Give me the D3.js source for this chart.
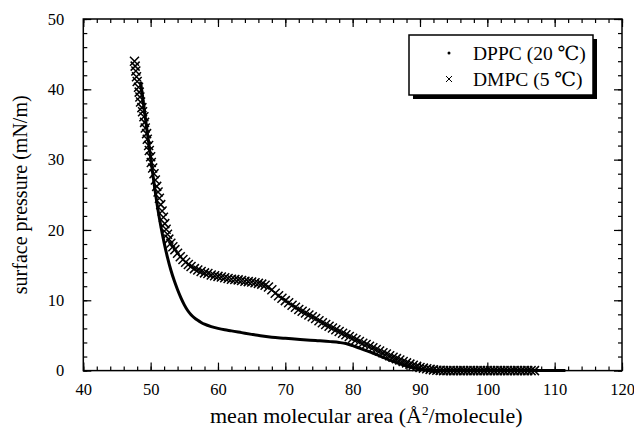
<!DOCTYPE html>
<html>
<head>
<meta charset="utf-8">
<script src="https://cdn.jsdelivr.net/npm/d3@7"></script>
<style>
  body { margin: 0; background: #fff; }
  svg { display: block; }
  svg text { font-family: 'Liberation Serif', 'Times New Roman', Times, 'DejaVu Serif', serif; fill: #000; }
</style>
</head>
<body>
<div id="chart"></div>
<script>
// ---- data ----
const xMajorTicks = [40, 50, 60, 70, 80, 90, 100, 110, 120];
const yMajorTicks = [0, 10, 20, 30, 40, 50];

// DPPC (20 C): mean molecular area (A^2/molecule), surface pressure (mN/m)
const dppcPoints = [
  [48.5, 41.1], [48.8, 39.0], [49.1, 36.8], [49.4, 34.6], [49.7, 32.5],
  [50.0, 30.3], [50.3, 28.1], [50.6, 26.0], [51.0, 23.4], [51.5, 20.6],
  [52.0, 18.2], [52.5, 16.1], [53.0, 14.3], [53.5, 12.8], [54.0, 11.5],
  [54.5, 10.35], [55.0, 9.35], [55.5, 8.55], [56.0, 7.95], [56.5, 7.5],
  [57.0, 7.15], [57.5, 6.85], [58.0, 6.6], [59.0, 6.25], [60.0, 6.0],
  [61.0, 5.8], [62.0, 5.65], [63.5, 5.4], [65.0, 5.15], [66.3, 4.95],
  [68.0, 4.75], [70.0, 4.6], [72.2, 4.42], [74.5, 4.27], [76.7, 4.12],
  [78.0, 4.0], [79.0, 3.85], [80.0, 3.55], [81.0, 3.2], [82.0, 2.85],
  [83.0, 2.5], [84.0, 2.1], [85.0, 1.7], [86.0, 1.3], [87.0, 0.95],
  [88.0, 0.65], [89.0, 0.4], [90.0, 0.2], [91.0, 0.08], [92.0, 0.02],
  [93.0, 0], [96.0, 0], [100.0, 0], [104.0, 0], [108.0, 0], [111.6, 0]
];

// DMPC (5 C)
const dmpcPoints = [
  [47.6, 44.0], [47.7, 43.3], [47.8, 42.6], [47.9, 41.8], [48.0, 41.1],
  [48.2, 40.3], [48.3, 39.6], [48.4, 38.9], [48.5, 38.2], [48.7, 37.4],
  [48.8, 36.8], [49.0, 36.1], [49.1, 35.3], [49.2, 34.5], [49.4, 33.7],
  [49.5, 32.9], [49.7, 32.0], [49.8, 31.3], [50.0, 30.4], [50.1, 29.6],
  [50.3, 28.8], [50.5, 28.0], [50.7, 27.1], [50.9, 26.2], [51.1, 25.4],
  [51.3, 24.5], [51.5, 23.6], [51.7, 22.7], [51.9, 21.8], [52.1, 20.9],
  [52.3, 20.1], [52.5, 19.4], [52.7, 18.7], [53.0, 18.1], [53.3, 17.6],
  [53.6, 17.2], [54.0, 16.7], [54.4, 16.2], [54.8, 15.8], [55.2, 15.4],
  [55.6, 15.1], [56.0, 14.8], [56.5, 14.5], [57.0, 14.3], [57.5, 14.1],
  [58.0, 13.9], [58.5, 13.8], [59.0, 13.6], [59.5, 13.5], [60.0, 13.4],
  [60.5, 13.3], [61.0, 13.2], [61.5, 13.1], [62.0, 13.0], [62.5, 12.95],
  [63.0, 12.9], [63.5, 12.8], [64.0, 12.7], [64.5, 12.65], [65.0, 12.6],
  [65.5, 12.5], [66.0, 12.4], [66.5, 12.3], [67.0, 12.15], [67.5, 11.9],
  [68.0, 11.5], [68.5, 11.0], [69.0, 10.65], [69.5, 10.3], [70.0, 9.95],
  [70.5, 9.65], [71.0, 9.3], [71.5, 9.0], [72.0, 8.7], [72.5, 8.45],
  [73.0, 8.2], [73.5, 7.9], [74.0, 7.65], [74.5, 7.4], [75.0, 7.1],
  [75.5, 6.8], [76.0, 6.55], [76.5, 6.3], [77.0, 6.05], [77.5, 5.8],
  [78.0, 5.55], [78.5, 5.3], [79.0, 5.1], [79.5, 4.85], [80.0, 4.6],
  [80.5, 4.4], [81.0, 4.15], [81.5, 3.9], [82.0, 3.7], [82.5, 3.45],
  [83.0, 3.25], [83.5, 3.0], [84.0, 2.8], [84.5, 2.55], [85.0, 2.35],
  [85.5, 2.1], [86.0, 1.9], [86.5, 1.7], [87.0, 1.5], [87.5, 1.3],
  [88.0, 1.1], [88.5, 0.92], [89.0, 0.75], [89.5, 0.6], [90.0, 0.45],
  [90.5, 0.35], [91.0, 0.25], [91.5, 0.17], [92.0, 0.1], [92.5, 0.05],
  [93.0, 0.03], [93.5, 0], [94.0, 0], [94.5, 0], [95.0, 0], [95.5, 0],
  [96.0, 0], [96.5, 0], [97.0, 0], [97.5, 0], [98.0, 0], [98.5, 0],
  [99.0, 0], [99.5, 0], [100.0, 0], [100.5, 0], [101.0, 0], [101.5, 0],
  [102.0, 0], [102.5, 0], [103.0, 0], [103.5, 0], [104.0, 0], [104.5, 0],
  [105.0, 0], [105.5, 0], [106.0, 0], [106.5, 0], [107.0, 0]
];

const legendLabels = ["DPPC (20 \u2103)", "DMPC (5 \u2103)"];

// ---- layout ----
const width = 634, height = 431;
const margin = { top: 19, right: 12, bottom: 60.4, left: 83.3 };
const innerW = width - margin.left - margin.right;
const innerH = height - margin.top - margin.bottom;

const serif = "'Liberation Serif', 'Times New Roman', Times, 'DejaVu Serif', serif";

const svg = d3.select("#chart").append("svg")
  .attr("width", width)
  .attr("height", height)
  .attr("font-family", serif);

const g = svg.append("g").attr("transform", `translate(${margin.left},${margin.top})`);

const x = d3.scaleLinear().domain([40, 120]).range([0, innerW]);
const y = d3.scaleLinear().domain([0, 50]).range([innerH, 0]);

function styleAxis(sel) {
  sel.attr("font-family", serif).attr("font-size", 16.5);
  sel.select(".domain").remove();
  sel.selectAll("line").attr("stroke", "#000").attr("stroke-width", 1.2);
}

// minor ticks every 2 on every side
const xMinor = d3.range(40, 121, 2);
const yMinor = d3.range(0, 51, 2);

g.append("g").attr("transform", `translate(0,${innerH})`)
  .call(d3.axisBottom(x).tickValues(xMinor).tickSize(-4).tickFormat(""))
  .call(styleAxis);
g.append("g")
  .call(d3.axisTop(x).tickValues(xMinor).tickSize(-4).tickFormat(""))
  .call(styleAxis);
g.append("g")
  .call(d3.axisLeft(y).tickValues(yMinor).tickSize(-4).tickFormat(""))
  .call(styleAxis);
g.append("g").attr("transform", `translate(${innerW},0)`)
  .call(d3.axisRight(y).tickValues(yMinor).tickSize(-4).tickFormat(""))
  .call(styleAxis);

// major ticks + labels
g.append("g").attr("transform", `translate(0,${innerH})`)
  .call(d3.axisBottom(x).tickValues(xMajorTicks).tickSize(-8).tickPadding(13).tickFormat(d3.format("d")))
  .call(styleAxis);
g.append("g")
  .call(d3.axisTop(x).tickValues(xMajorTicks).tickSize(-8).tickFormat(""))
  .call(styleAxis);
g.append("g")
  .call(d3.axisLeft(y).tickValues(yMajorTicks).tickSize(-8).tickPadding(19).tickFormat(d3.format("d")))
  .call(styleAxis);
g.append("g").attr("transform", `translate(${innerW},0)`)
  .call(d3.axisRight(y).tickValues(yMajorTicks).tickSize(-8).tickFormat(""))
  .call(styleAxis);

// frame
g.append("rect")
  .attr("width", innerW).attr("height", innerH)
  .attr("fill", "none").attr("stroke", "#000").attr("stroke-width", 1.5);

// ---- series ----
const line = d3.line()
  .x(d => x(d[0]))
  .y(d => y(d[1]))
  .curve(d3.curveMonotoneX);

g.append("path")
  .datum(dppcPoints)
  .attr("d", line)
  .attr("fill", "none")
  .attr("stroke", "#000")
  .attr("stroke-width", 3)
  .attr("stroke-linejoin", "round");

const cross = 4.5;
g.append("g")
  .selectAll("path")
  .data(dmpcPoints)
  .join("path")
  .attr("transform", d => `translate(${x(d[0])},${y(d[1])})`)
  .attr("d", `M${-cross},${-cross}L${cross},${cross}M${-cross},${cross}L${cross},${-cross}`)
  .attr("stroke", "#000")
  .attr("stroke-width", 1.5)
  .attr("fill", "none");

// ---- legend ----
const legend = svg.append("g").attr("transform", "translate(409,35)");
legend.append("rect")
  .attr("x", 4).attr("y", 4).attr("width", 184).attr("height", 60)
  .attr("fill", "#000");
legend.append("rect")
  .attr("width", 184).attr("height", 60)
  .attr("fill", "#fff").attr("stroke", "#000").attr("stroke-width", 1.5);

legend.append("circle")
  .attr("cx", 40).attr("cy", 18).attr("r", 1.5).attr("fill", "#000");
legend.append("path")
  .attr("transform", "translate(40,44)")
  .attr("d", "M-3,-3L3,3M-3,3L3,-3")
  .attr("stroke", "#000").attr("stroke-width", 1);

legend.selectAll("text.lab")
  .data(legendLabels)
  .join("text")
  .attr("class", "lab")
  .attr("x", 64)
  .attr("y", (d, i) => 25 + i * 26)
  .attr("font-size", 19.5)
  .text(d => d);

// ---- axis titles ----
const xTitle = svg.append("text")
  .attr("x", 210)
  .attr("y", 423)
  .attr("font-size", 22);
xTitle.append("tspan").text("mean molecular area (\u00c5");
xTitle.append("tspan").attr("dy", -8).attr("font-size", 13).text("2");
xTitle.append("tspan").attr("dy", 8).text("/molecule)");

svg.append("text")
  .attr("transform", `translate(27,${margin.top + innerH / 2}) rotate(-90)`)
  .attr("text-anchor", "middle")
  .attr("font-size", 20)
  .text("surface pressure (mN/m)");
</script>
</body>
</html>
